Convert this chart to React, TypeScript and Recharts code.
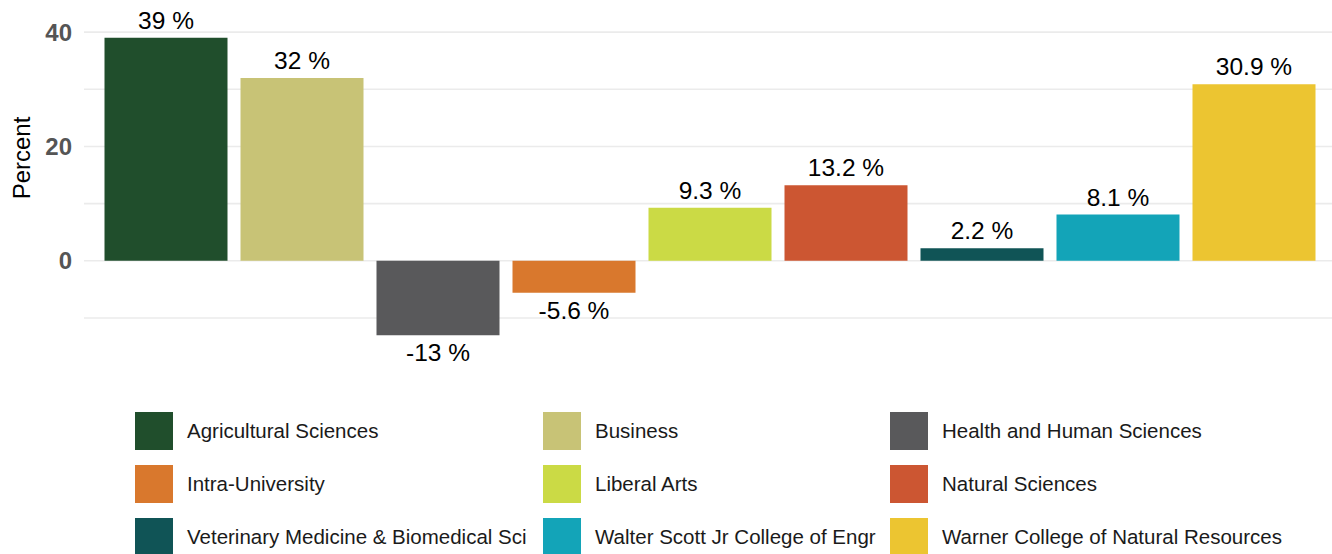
import { BarChart, Bar, XAxis, YAxis, CartesianGrid, Cell, LabelList } from 'recharts';

const colleges = [
  'Agricultural Sciences',
  'Business',
  'Health and Human Sciences',
  'Intra-University',
  'Liberal Arts',
  'Natural Sciences',
  'Veterinary Medicine & Biomedical Sci',
  'Walter Scott Jr College of Engr',
  'Warner College of Natural Resources',
];
const percents = [39, 32, -13, -5.6, 9.3, 13.2, 2.2, 8.1, 30.9];
const colors = ['#204e2c', '#c8c376', '#59595b', '#d9782d', '#cbda45', '#cc5632', '#105456', '#13a4b8', '#ecc531'];
const yTicks = [-10, 0, 10, 20, 30, 40];
const yLabeled = [0, 20, 40];

const data = colleges.map((name, i) => ({ name, value: percents[i] }));

const FONT = '"Liberation Sans", Arial, sans-serif';

const ValueLabel = (props: any) => {
  const { x, y, width, height, value } = props;
  const top = Math.min(y, y + height);
  const bottom = Math.max(y, y + height);
  const ty = value >= 0 ? top - 9 : bottom + 26;
  return (
    <text x={x + width / 2} y={ty} textAnchor="middle" fontSize={24.5} fontFamily={FONT} fill="#000">
      {value} %
    </text>
  );
};

const YTitle = () => (
  <text x={30} y={158} transform="rotate(-90 30 158)" textAnchor="middle" fontSize={24} fontFamily={FONT} fill="#000">
    Percent
  </text>
);

const colWidths = [408, 347, 420];

export default function App() {
  return (
    <div style={{ position: 'absolute', left: 0, top: 0, width: 1332, height: 554, overflow: 'hidden', background: '#fff' }}>
      <BarChart width={1332} height={554} data={data} margin={{ top: 23, right: 0, bottom: 204, left: 0 }}>
        <CartesianGrid vertical={false} stroke="#ebebeb" strokeWidth={1.6} syncWithTicks />
        <XAxis dataKey="name" hide padding={{ left: 13.5, right: 10.5 }} />
        <YAxis
          width={84}
          domain={[-15.6, 41.6]}
          allowDataOverflow
          ticks={yTicks}
          interval={0}
          axisLine={false}
          tickLine={false}
          tickMargin={6}
          tick={{ fontSize: 24, fontWeight: 'bold', fill: '#555', fontFamily: FONT }}
          tickFormatter={(v: number) => (yLabeled.includes(v) ? String(v) : '')}
          label={{ content: <YTitle /> }}
        />
        <Bar dataKey="value" barSize={123} isAnimationActive={false}>
          {data.map((d, i) => (
            <Cell key={d.name} fill={colors[i]} />
          ))}
          <LabelList dataKey="value" content={<ValueLabel />} />
        </Bar>
      </BarChart>
      <div style={{ position: 'absolute', left: 135, top: 412, display: 'flex', flexWrap: 'wrap', width: 1200, rowGap: 15, fontFamily: FONT }}>
        {colleges.map((name, i) => (
          <div key={name} style={{ width: colWidths[i % 3], height: 38, display: 'flex', alignItems: 'center' }}>
            <div style={{ width: 38, height: 38, background: colors[i], marginRight: 14, flexShrink: 0 }} />
            <span style={{ fontSize: 20.5, color: '#1a1a1a', whiteSpace: 'nowrap' }}>{name}</span>
          </div>
        ))}
      </div>
    </div>
  );
}
